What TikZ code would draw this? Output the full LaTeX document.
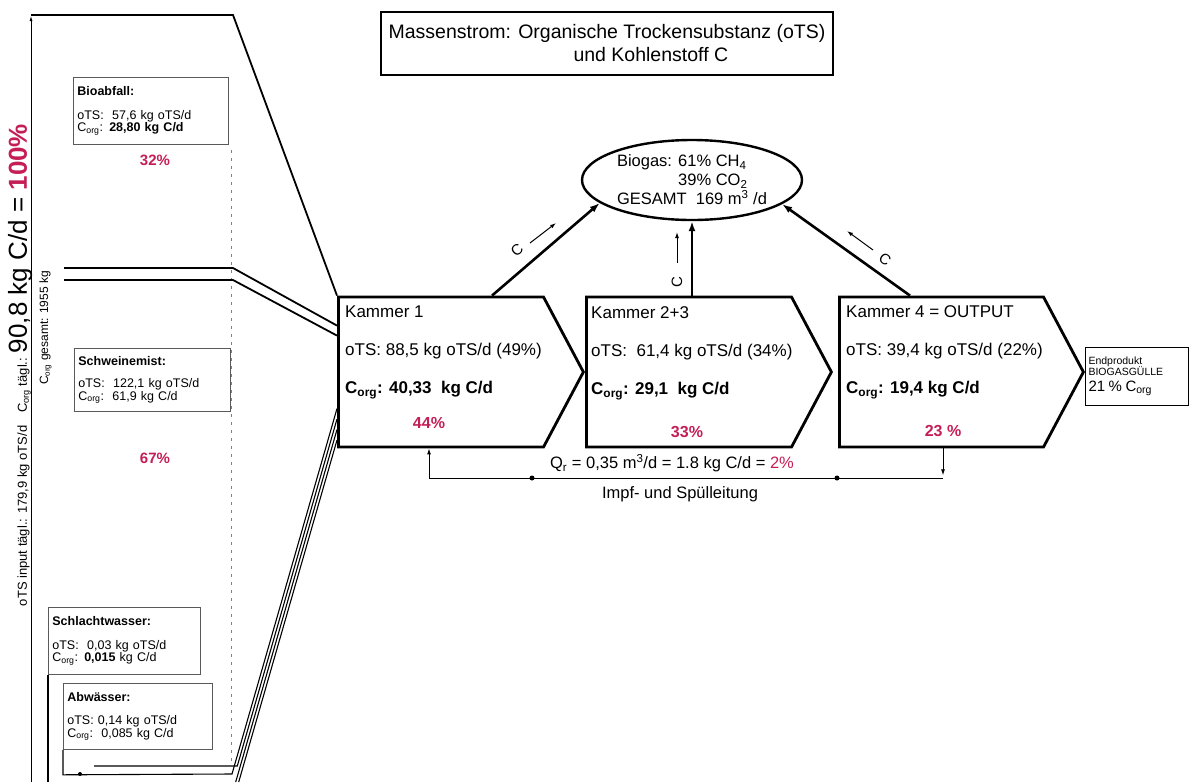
\documentclass[tikz,border=0pt]{standalone}
\usepackage{fontspec}
\setmainfont{Liberation Sans}
\usepackage{tikz}
\usetikzlibrary{arrows.meta, positioning, shapes.geometric, shapes.symbols}
\definecolor{pctred}{RGB}{196, 30, 85}
\definecolor{boxgray}{RGB}{90, 90, 90}
\newcommand{\Corg}{C\textsubscript{org}}

\begin{document}
\begin{tikzpicture}[
  x=1pt, y=-1pt,
  kammer/.style={draw, line width=2.8pt, signal, signal to=east, signal pointer angle=124,
                 minimum width=245pt, minimum height=150pt, inner sep=0pt, anchor=west},
  ktext/.style={font=\fontsize{17}{38}\selectfont, align=left, anchor=north west, inner sep=0pt},
  pct/.style={font=\fontsize{16}{16}\selectfont\bfseries, text=pctred},
  inbox/.style={draw=boxgray, line width=0.8pt, anchor=north west, align=left,
                font=\fontsize{12.5}{12.5}\selectfont, inner sep=4pt, text width=#1},
  feed/.style={line width=1.8pt},
  diag/.style={line width=1.1pt},
  garr/.style={-{Latex[length=10pt,width=7pt]}, line width=2.6pt},
  sarr/.style={-{Latex[length=6pt,width=4pt]}, line width=1pt},
  clbl/.style={font=\fontsize{15}{15}\selectfont, inner sep=0pt},
  dot/.style={circle, fill, inner sep=0pt, minimum size=5pt}]
  \useasboundingbox (0,0) rectangle (1190,782);

  % Titel
  \node[draw, line width=1.6pt, minimum width=452pt, minimum height=63pt,
        font=\fontsize{19.5}{23}\selectfont, align=center] (title) at (607,43.5)
        {Massenstrom: Organische Trockensubstanz (oTS)\\\hspace*{4.5em}und Kohlenstoff C};

  % Kammern
  \node[kammer] (k1) at (337,372) {};
  \node[kammer] (k23) at (585,372) {};
  \node[kammer, minimum width=244pt] (k4) at (838,372) {};
  \node[ktext] (t1) at ([shift={(8pt,-10pt)}]k1.north west)
        {Kammer 1\\oTS: 88,5 kg oTS/d (49\%)\\\textbf{\Corg: 40,33 \ kg C/d}};
  \node[ktext] (t23) at ([shift={(6pt,-11pt)}]k23.north west)
        {Kammer 2+3\\oTS: \ 61,4 kg oTS/d (34\%)\\\textbf{\Corg: 29,1 \ kg C/d}};
  \node[ktext] (t4) at ([shift={(8pt,-10pt)}]k4.north west)
        {Kammer 4 = OUTPUT\\oTS: 39,4 kg oTS/d (22\%)\\\textbf{\Corg: 19,4 kg C/d}};
  \node[pct] (p1) at (429,423) {44\%};
  \node[pct] (p23) at (687,432) {33\%};
  \node[pct] (p4) at (943,431) {23 \%};

  % Biogas
  \node[draw, ellipse, line width=2.4pt, minimum width=220pt, minimum height=80pt,
        inner sep=0pt, font=\fontsize{16.5}{19}\selectfont, align=left] (biogas) at (692,180)
        {Biogas: 61\% CH\textsubscript{4}\\\phantom{Biogas: }39\% CO\textsubscript{2}\\GESAMT \ 169 m\textsuperscript{3} /d};
  \draw[garr] ([xshift=155pt]k1.north west) -- (biogas.194);
  \draw[garr] (biogas.south |- k23.north) -- (biogas.south);
  \draw[garr] ([xshift=72pt]k4.north west) -- (biogas.345);
  \node[clbl, rotate=40] (c1) at (517,250) {C};
  \draw[sarr] (c1) ++(13,-7) -- ++(26,-20);
  \node[clbl, rotate=90] (c2) at (677,282) {C};
  \draw[sarr] (c2) ++(0,-19) -- ++(0,-31);
  \node[clbl, rotate=-35] (c3) at (885,259) {C};
  \draw[sarr] (c3) ++(-12,-9) -- ++(-26,-19);

  % Endprodukt
  \node[draw, line width=1pt, anchor=north west, minimum width=103pt, minimum height=58pt,
        text width=97pt, inner sep=3pt, align=left, font=\fontsize{10.5}{11}\selectfont] (endp)
        at (1085,347) {Endprodukt\\BIOGASGÜLLE\\[5pt]{\fontsize{15}{15}\selectfont 21 \% \Corg}};

  % Impf- und Spuelleitung
  \coordinate (qr) at (943,478);
  \coordinate (ql) at (429,478);
  \draw[sarr] (qr |- k4.south) -- ++(0,27);
  \draw[sarr] (qr) -- (ql) -- (ql |- k1.south);
  \node[dot] (j1) at (532,478) {};
  \node[dot] (j2) at (837,478) {};
  \node[font=\fontsize{16.5}{17}\selectfont] (qtext) at (672,463)
        {Q\textsubscript{r} = 0,35 m\textsuperscript{3}/d = 1.8 kg C/d = \textcolor{pctred}{2\%}};
  \node[font=\fontsize{16.5}{17}\selectfont] (impf) at (680,494) {Impf- und Spülleitung};

  % Zulauf links
  \draw[line width=0.8pt, -{Latex[length=5pt,width=3pt]}] (31,782) -- (31,16);
  \draw[gray, line width=0.8pt, dash pattern=on 3pt off 5pt] (231,150) -- (231,762);
  \draw[feed] (31,15) -- (233,15) -- (k1.north west);
  \draw[feed] (64,268) -- (233,268) -- ([yshift=-30pt]k1.north west);
  \draw[feed] (64,280) -- (233,280) -- ([yshift=-40pt]k1.north west);

  \node[inbox=147pt, minimum height=67pt] (bio) at (73,77)
        {\textbf{Bioabfall:}\\[11pt]oTS:\ \ 57,6 kg oTS/d\\\Corg: \textbf{28,80 kg C/d}};
  \node[pct, font=\fontsize{15}{15}\selectfont\bfseries] (pbio) at (155,160) {32\%};
  \node[inbox=148pt, minimum height=63pt] (schwein) at (74,348)
        {\textbf{Schweinemist:}\\[10pt]oTS:\ \ 122,1 kg oTS/d\\\Corg:\ \ 61,9 kg C/d};
  \node[pct, font=\fontsize{15}{15}\selectfont\bfseries] (pschwein) at (155,458) {67\%};
  \node[inbox=144pt, minimum height=67pt] (schlacht) at (48,607)
        {\textbf{Schlachtwasser:}\\[11pt]oTS:\ \ 0,03 kg oTS/d\\\Corg: \textbf{0,015} kg C/d};
  \node[inbox=141pt, minimum height=66pt] (abw) at (63,683)
        {\textbf{Abwässer:}\\[11pt]oTS: 0,14 kg oTS/d\\\Corg:\ \ 0,085 kg C/d};

  \draw[diag] (abw.south west) -- ++(0,25) -- (232,774) -- ([yshift=-113pt]k1.north west);
  \draw[diag] (94,766) -- (237.3,766) -- ([yshift=-123.5pt]k1.north west);
  \draw[diag] (235.7,782) -- ([yshift=-134pt]k1.north west);
  \draw[diag] (238.7,782) -- ([yshift=-144.5pt]k1.north west);
  \draw[diag] (schlacht.south west) -- (48,782);
  \node[dot, minimum size=4pt] (j3) at (80,774) {};

  \node[rotate=90, anchor=base, font=\fontsize{13}{13}\selectfont] (sumtext) at (27,365)
        {oTS input tägl.: 179,9 kg oTS/d\quad \Corg{} tägl.: {\fontsize{26}{26}\selectfont 90,8 kg C/d = \textcolor{pctred}{\textbf{100\%}}}};
  \node[rotate=90, anchor=base, font=\fontsize{12}{12}\selectfont] (gesamt) at (48,328)
        {\Corg{} gesamt: 1955 kg};
\end{tikzpicture}
\end{document}
